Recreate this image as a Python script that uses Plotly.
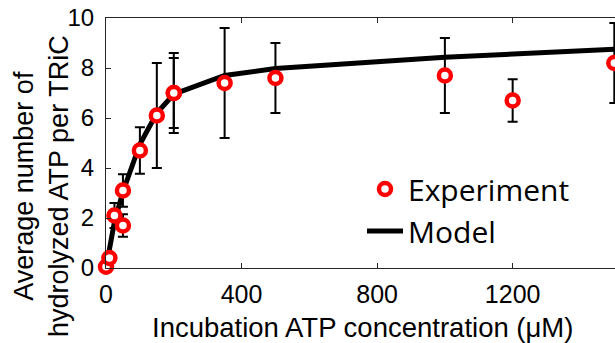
import plotly.graph_objects as go

# Experimental data
exp_x = [0, 10, 25, 50, 50, 100, 150, 200, 200, 350, 500, 1000, 1200, 1500]
exp_y = [0.05, 0.4, 2.1, 1.7, 3.1, 4.7, 6.1, 7.0, 7.0, 7.4, 7.6, 7.7, 6.7, 8.2]
exp_err = [0.05, 0.1, 0.5, 0.45, 0.65, 0.93, 2.1, 1.6, 1.4, 2.2, 1.4, 1.5, 0.85, 1.6]

# Model curve
model_x = [0, 10, 25, 50, 100, 150, 200, 350, 500, 1000, 1200, 1500]
model_y = [0, 0.8, 1.85, 3.05, 4.95, 6.2, 6.95, 7.7, 7.98, 8.43, 8.57, 8.75]

x_ticks = [0, 400, 800, 1200]
y_ticks = [0, 2, 4, 6, 8, 10]

W, H = 615, 343
L, R, T, B = 106, 0, 18, 75
pw, ph = W - L - R, H - T - B

fig = go.Figure()
fig.add_trace(go.Scatter(
    x=model_x, y=model_y, mode="lines", name="Model",
    line=dict(color="black", width=5), legendrank=2, cliponaxis=False,
))
fig.add_trace(go.Scatter(
    x=exp_x, y=exp_y, mode="markers", name="Experiment",
    marker=dict(symbol="circle", size=12, color="white",
                line=dict(color="#ff0000", width=4.5)),
    error_y=dict(type="data", array=exp_err, visible=True,
                 color="black", thickness=2, width=5),
    legendrank=1, cliponaxis=False,
))

axis_common = dict(
    showline=True, linecolor="#262626", linewidth=1,
    ticks="inside", ticklen=5, tickwidth=1, tickcolor="#262626",
    showgrid=False, zeroline=False,
)
fig.update_xaxes(range=[0, 1502], tickvals=x_ticks,
                 ticktext=[str(v) for v in x_ticks], mirror="ticks",
                 tickfont=dict(family="Liberation Sans", size=25, color="black"),
                 ticklabelstandoff=4, **axis_common)
fig.update_yaxes(range=[0, 10], tickvals=y_ticks,
                 ticktext=[str(v) for v in y_ticks],
                 tickfont=dict(family="Liberation Sans", size=24, color="black"),
                 ticklabelstandoff=6, **axis_common)

fig.add_annotation(
    text="Incubation ATP concentration (\u03bcM)", xref="paper", yref="paper",
    x=(362 - L) / pw, y=(268 - 327) / ph, xanchor="center", yanchor="middle",
    showarrow=False, font=dict(family="Liberation Sans", size=27.5, color="black"),
)
fig.add_annotation(
    text="Average number of<br>hydrolyzed ATP per TRiC", xref="paper", yref="paper",
    x=(42 - L) / pw, y=(268 - 186) / ph, xanchor="center", yanchor="middle",
    textangle=-90, showarrow=False,
    font=dict(family="Liberation Sans", size=27, color="black"),
)

fig.update_layout(
    width=W, height=H,
    margin=dict(l=L, r=R, t=T, b=B),
    paper_bgcolor="white", plot_bgcolor="white",
    showlegend=True,
    legend=dict(x=(362 - L) / pw, y=(268 - 163) / ph, xanchor="left", yanchor="top",
                font=dict(family="Open Sans", size=30, color="black"),
                itemwidth=36,
                bgcolor="rgba(0,0,0,0)", borderwidth=0, tracegroupgap=0),
)

fig.write_html("out.html")
